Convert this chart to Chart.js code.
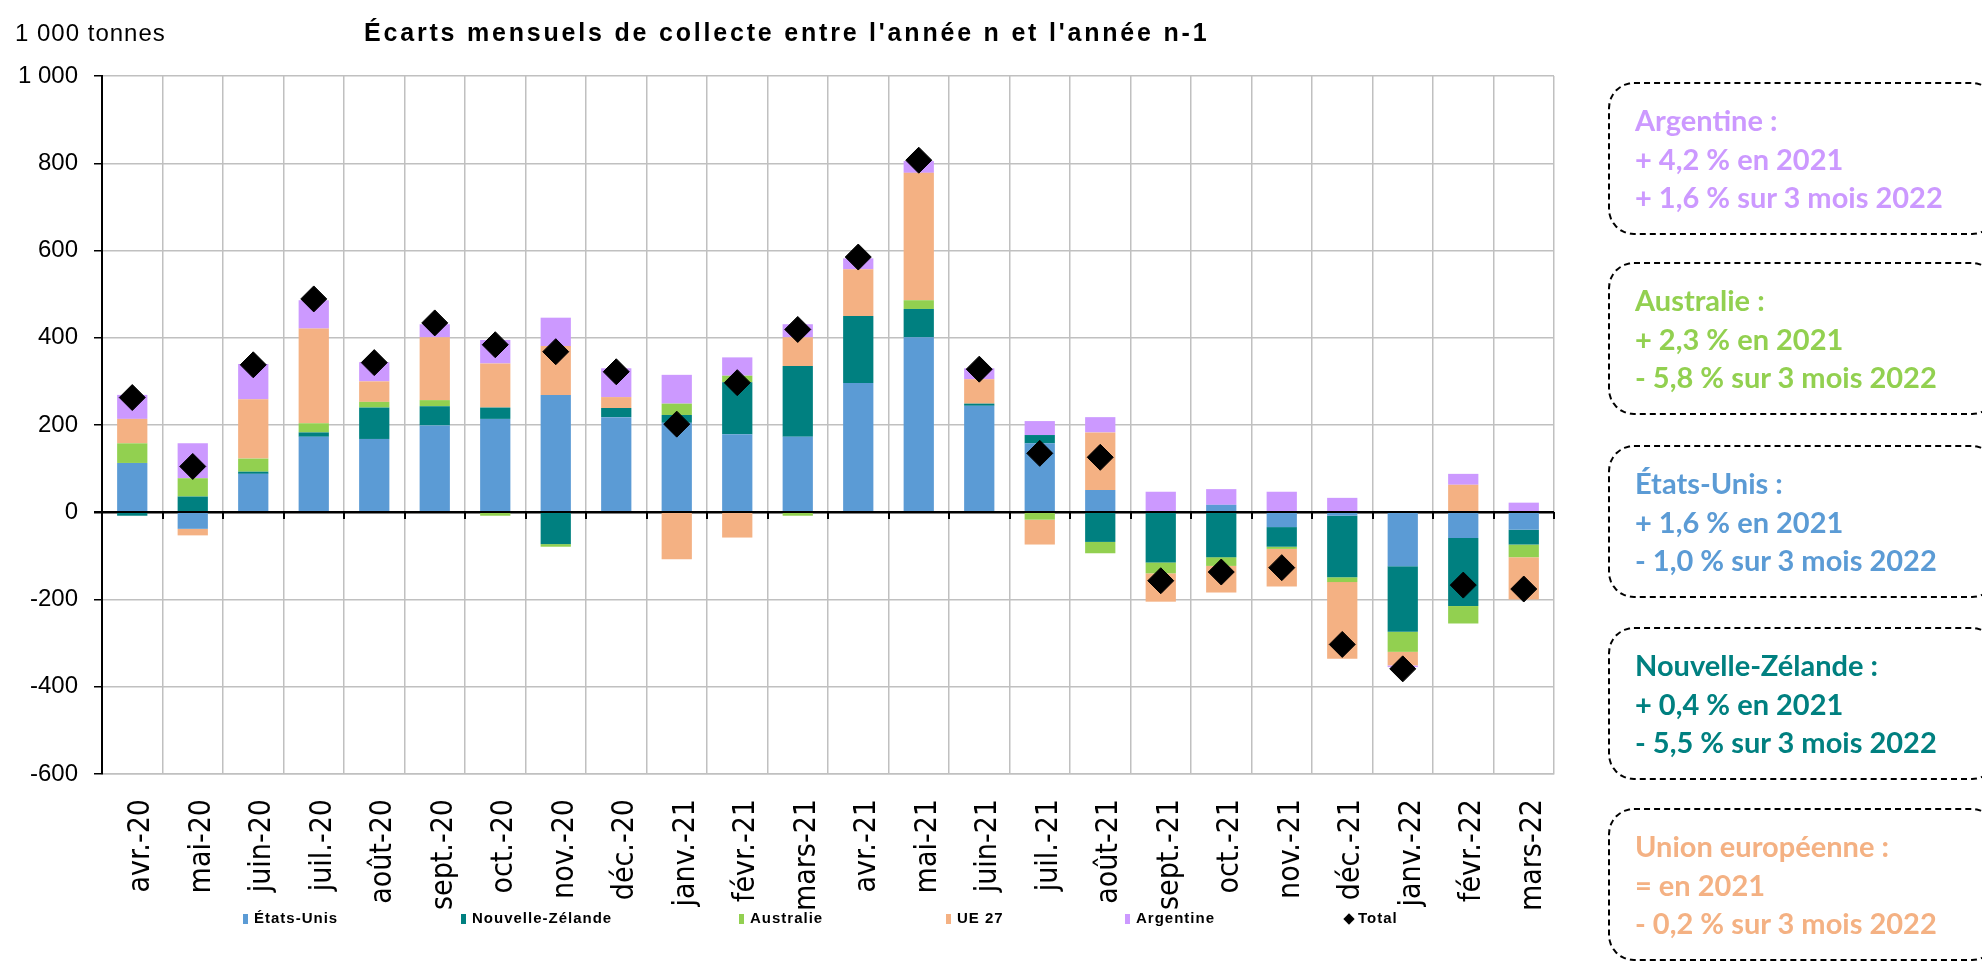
<!DOCTYPE html>
<html>
<head>
<meta charset="utf-8">
<script src="https://cdn.jsdelivr.net/npm/chart.js@4.4.1/dist/chart.umd.min.js"></script>
<style>
html,body{margin:0;padding:0;background:#fff;width:1982px;height:962px;overflow:hidden;}
#wrap{position:relative;width:1982px;height:962px;overflow:hidden;}
#c{position:absolute;left:0;top:0;}
.unit{position:absolute;left:15px;top:21px;font:24px "Liberation Sans",Arial,sans-serif;line-height:1;letter-spacing:1px;color:#000;white-space:nowrap;}
.title{position:absolute;left:364px;top:20px;font:bold 25px "Liberation Sans",Arial,sans-serif;line-height:1;letter-spacing:2.8px;color:#000;white-space:nowrap;}
.leg{position:absolute;top:909px;height:18px;font:bold 15px "Liberation Sans",Arial,sans-serif;letter-spacing:1px;line-height:18px;color:#000;white-space:nowrap;}
.leg i{display:inline-block;width:5px;height:10px;margin-right:6px;vertical-align:-1px;}
.leg b.dia{display:inline-block;width:8px;height:8px;background:#000;transform:rotate(45deg);margin-right:5px;margin-left:1px;vertical-align:0px;}
.box{position:absolute;left:1608px;width:390px;height:153px;box-sizing:border-box;border:2px dashed #000;border-radius:26px;padding:17px 0 0 25px;font:bold 29px Lato,"Open Sans",sans-serif;line-height:38.5px;white-space:nowrap;}
</style>
</head>
<body>
<div id="wrap">
<canvas id="c" width="1982" height="962"></canvas>
<div class="unit">1 000 tonnes</div>
<div class="title">Écarts mensuels de collecte entre l'année n et l'année n-1</div>
<div id="legend"></div>
<div id="boxes"></div>
</div>
<script>
// ---- Data (1 000 tonnes) ----
const categories = ['avr.-20','mai-20','juin-20','juil.-20','août-20','sept.-20','oct.-20','nov.-20','déc.-20','janv.-21','févr.-21','mars-21','avr.-21','mai-21','juin-21','juil.-21','août-21','sept.-21','oct.-21','nov.-21','déc.-21','janv.-22','févr.-22','mars-22'];
const etatsUnis      = [113, -38, 88, 173, 168, 199, 214, 269, 218, 205, 179, 173, 296, 401, 244, 158, 51, 0, 17, -34, -8, -124, -59, -40];
const nouvelleZelande = [-8, 36, 5, 10, 72, 44, 26, -73, 21, 18, 119, 162, 154, 65, 5, 19, -68, -115, -103, -45, -141, -150, -156, -34];
const australie      = [45, 42, 30, 21, 13, 14, -8, -6, 0, 26, 15, -8, 0, 20, 0, -17, -26, -25, -20, -5, -11, -46, -40, -29];
const ue27           = [56, -15, 136, 217, 47, 144, 101, 112, 25, -108, -58, 66, 107, 292, 56, -57, 132, -65, -61, -86, -176, -31, 63, -97];
const argentine      = [55, 80, 81, 65, 44, 30, 54, 65, 66, 66, 42, 30, 25, 27, 25, 32, 35, 47, 36, 47, 33, -4, 25, 22];
const total          = [263, 105, 338, 489, 343, 434, 384, 368, 322, 202, 297, 419, 585, 807, 328, 135, 126, -157, -137, -127, -303, -359, -167, -176];

const seriesNames = ['États-Unis','Nouvelle-Zélande','Australie','UE 27','Argentine','Total'];
const seriesColors = ['#5B9BD5','#008080','#92D050','#F4B183','#CC99FF','#000000'];
const legendX = [243, 461, 739, 946, 1125, 1344];

const boxTexts = [
  ['Argentine :', '+ 4,2 % en 2021', '+ 1,6 % sur 3 mois 2022'],
  ['Australie :', '+ 2,3 % en 2021', '- 5,8 % sur 3 mois 2022'],
  ['États-Unis :', '+ 1,6 % en 2021', '- 1,0 % sur 3 mois 2022'],
  ['Nouvelle-Zélande :', '+ 0,4 % en 2021', '- 5,5 % sur 3 mois 2022'],
  ['Union européenne :', '= en 2021', '- 0,2 % sur 3 mois 2022']
];
const boxColors = ['#CC99FF','#92D050','#5B9BD5','#008080','#F4B183'];
const boxTops = [82, 262, 445, 627, 808];

// ---- HTML legend & boxes ----
const legend = document.getElementById('legend');
seriesNames.forEach((n, i) => {
  const d = document.createElement('div');
  d.className = 'leg';
  d.style.left = legendX[i] + 'px';
  if (i < 5) {
    const m = document.createElement('i');
    m.style.background = seriesColors[i];
    d.appendChild(m);
  } else {
    const m = document.createElement('b');
    m.className = 'dia';
    d.appendChild(m);
  }
  d.appendChild(document.createTextNode(n));
  legend.appendChild(d);
});
const boxes = document.getElementById('boxes');
boxTexts.forEach((lines, i) => {
  const b = document.createElement('div');
  b.className = 'box';
  b.style.top = boxTops[i] + 'px';
  b.style.color = boxColors[i];
  lines.forEach(t => { const l = document.createElement('div'); l.textContent = t; b.appendChild(l); });
  boxes.appendChild(b);
});

// ---- Chart ----
const zeroLine = {
  id: 'zeroLine',
  beforeDatasetDraw(chart, args) {
    if (args.meta.type !== 'line') return;
    const {ctx, chartArea, scales} = chart;
    const y0 = Math.round(scales.y.getPixelForValue(0));
    ctx.save();
    ctx.strokeStyle = '#000';
    ctx.lineWidth = 2;
    ctx.beginPath();
    ctx.moveTo(chartArea.left - 8, y0);
    ctx.lineTo(chartArea.right, y0);
    const n = categories.length;
    const w = (chartArea.right - chartArea.left) / n;
    for (let i = 1; i <= n; i++) {
      const x = Math.round(chartArea.left + i * w);
      ctx.moveTo(x, y0);
      ctx.lineTo(x, y0 + 7);
    }
    ctx.stroke();
    ctx.restore();
  }
};

function fmt(v) {
  const s = String(Math.abs(v)).replace(/\B(?=(\d{3})+(?!\d))/g, ' ');
  return (v < 0 ? '-' : '') + s;
}

const barSets = [etatsUnis, nouvelleZelande, australie, ue27, argentine].map((d, i) => ({
  type: 'bar',
  label: seriesNames[i],
  data: d,
  backgroundColor: seriesColors[i],
  borderWidth: 0,
  order: 1
}));

new Chart(document.getElementById('c'), {
  data: {
    labels: categories,
    datasets: [...barSets, {
      type: 'line',
      label: 'Total',
      data: total,
      showLine: false,
      pointStyle: 'rectRot',
      pointRadius: 13,
      pointBackgroundColor: '#000',
      pointBorderColor: '#000',
      pointBorderWidth: 1,
      borderColor: '#000',
      backgroundColor: '#000',
      order: 0
    }]
  },
  options: {
    responsive: false,
    animation: false,
    layout: {padding: {top: 76, right: 428, left: 0, bottom: 0}},
    plugins: {legend: {display: false}, tooltip: {enabled: false}, title: {display: false}},
    datasets: {bar: {barPercentage: 0.5, categoryPercentage: 1}},
    scales: {
      x: {
        stacked: true,
        grid: {color: '#c0c0c0', lineWidth: 1.5, drawTicks: false, offset: true},
        border: {color: '#c0c0c0', width: 1.5},
        ticks: {
          autoSkip: false, minRotation: 90, maxRotation: 90, padding: 25, labelOffset: 9,
          color: '#000',
          font: {family: '"Liberation Sans Narrow", "DejaVu Sans Condensed", "Liberation Sans", sans-serif', size: 30}
        },
        afterFit(s) { s.height = 188; }
      },
      y: {
        stacked: true,
        min: -600, max: 1000,
        ticks: {stepSize: 200, padding: 16, color: '#000',
          font: {family: '"Liberation Sans", Arial, sans-serif', size: 24},
          callback: v => fmt(v)},
        grid: {color: c => (c.tick && c.tick.value === 0) ? '#000' : '#c0c0c0', lineWidth: 1.5, tickColor: '#000', tickLength: 8},
        border: {color: '#000', width: 2},
        afterFit(s) { s.width = 102; }
      }
    }
  },
  plugins: [zeroLine]
});
</script>
</body>
</html>
